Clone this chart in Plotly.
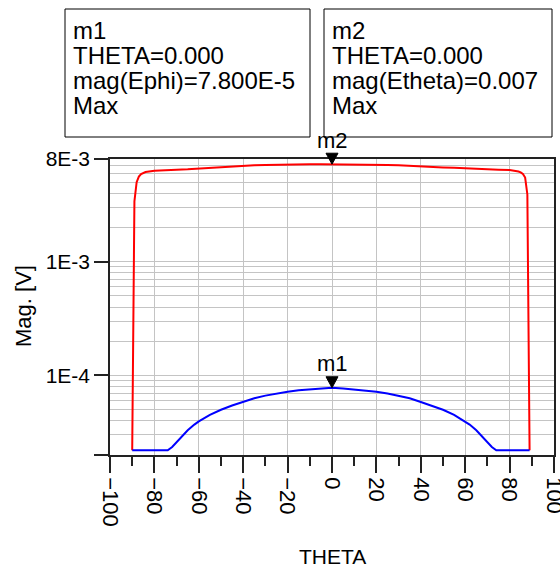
import numpy as np
import plotly.graph_objects as go

# ---- data -------------------------------------------------------------
theta_etheta = [-90, -89, -88, -87, -86, -85, -84, -80, -75, -70, -65, -60, -55, -50,
                -45, -40, -35, -30, -25, -20, -15, -10, -5, 0, 5, 10, 15, 20, 25, 30,
                35, 40, 45, 50, 55, 60, 65, 70, 75, 80, 84, 85, 86, 87, 88, 89]
mag_etheta = [2.2e-5, 3.4e-3, 5.0e-3, 5.6e-3, 5.9e-3, 6.05e-3, 6.15e-3, 6.3e-3, 6.4e-3,
              6.45e-3, 6.5e-3, 6.6e-3, 6.7e-3, 6.8e-3, 6.9e-3, 7.0e-3, 7.05e-3, 7.1e-3,
              7.15e-3, 7.2e-3, 7.2e-3, 7.2e-3, 7.2e-3, 7.2e-3, 7.2e-3, 7.2e-3, 7.2e-3,
              7.15e-3, 7.1e-3, 7.05e-3, 7.0e-3, 6.95e-3, 6.85e-3, 6.75e-3, 6.7e-3,
              6.6e-3, 6.55e-3, 6.5e-3, 6.45e-3, 6.4e-3, 6.2e-3, 6.1e-3, 5.9e-3, 5.5e-3,
              3.9e-3, 2.2e-5]

theta_ephi = [-90, -85, -80, -75, -74, -72, -70, -67, -65, -62, -60, -55, -50, -45, -40,
              -35, -30, -25, -20, -15, -10, -5, 0, 5, 10, 15, 20, 25, 30, 35, 40, 45,
              50, 55, 60, 62, 65, 67, 70, 72, 74, 75, 80, 85, 89]
mag_ephi = [2.2e-5, 2.2e-5, 2.2e-5, 2.2e-5, 2.2e-5, 2.35e-5, 2.6e-5, 3.0e-5, 3.3e-5,
            3.7e-5, 3.95e-5, 4.5e-5, 5.0e-5, 5.45e-5, 5.85e-5, 6.3e-5, 6.65e-5, 6.95e-5,
            7.2e-5, 7.4e-5, 7.55e-5, 7.7e-5, 7.8e-5, 7.7e-5, 7.55e-5, 7.4e-5, 7.2e-5,
            6.95e-5, 6.65e-5, 6.3e-5, 5.85e-5, 5.45e-5, 5.0e-5, 4.5e-5, 3.95e-5,
            3.7e-5, 3.3e-5, 3.0e-5, 2.6e-5, 2.35e-5, 2.2e-5, 2.2e-5, 2.2e-5, 2.2e-5,
            2.2e-5]

x_min, x_max = -100, 100
x_tickvals = list(range(-100, 101, 20))
y_min, y_max = 2e-5, 8e-3
y_tickvals = [y_min, 1e-4, 1e-3, 8e-3]
y_ticktext = ["", "1E-4", "1E-3", "8E-3"]
y_gridvals = [k * 1e-5 for k in range(3, 10)] + [k * 1e-4 for k in range(2, 10)] + \
             [k * 1e-3 for k in range(2, 8)]

marker_theta = 0  # both markers sit at THETA = 0 (Max)

# ---- helpers ----------------------------------------------------------
W, H = 560, 570
L, R, T, B = 110, 6, 159, 115
PW, PH = W - L - R, H - T - B
LOG_MIN, LOG_MAX = np.log10(y_min), np.log10(y_max)


def xp(px):
    """figure pixel column -> paper x"""
    return (px - L) / PW


def yp(py):
    """figure pixel row -> paper y"""
    return (H - B - py) / PH


def data_to_paper(theta, val):
    return ((theta - x_min) / (x_max - x_min),
            (np.log10(val) - LOG_MIN) / (LOG_MAX - LOG_MIN))


def sci(v):
    e = int(np.floor(np.log10(v)))
    return f"{v / 10**e:.3f}E{e}"


FONT = "Liberation Sans, Arial, sans-serif"

m1_val = mag_ephi[theta_ephi.index(marker_theta)]
m2_val = mag_etheta[theta_etheta.index(marker_theta)]

fig = go.Figure()
fig.add_trace(go.Scatter(x=theta_etheta, y=mag_etheta, mode="lines",
                         line=dict(color="#ff0000", width=2), name="mag(Etheta)"))
fig.add_trace(go.Scatter(x=theta_ephi, y=mag_ephi, mode="lines",
                         line=dict(color="#0000ff", width=2), name="mag(Ephi)"))

annotations = []
shapes = []

# marker triangles (tip on the curve, 12 px wide, 11 px tall) and their names;
# drawn in paper space so the m2 triangle is not clipped at the top frame
hw, ht = 6 / PW, 11 / PH
for name, val in (("m1", m1_val), ("m2", m2_val)):
    px0, py0 = data_to_paper(marker_theta, val)
    shapes.append(dict(
        type="path", xref="paper", yref="paper",
        path=f"M {px0 - hw} {py0 + ht} L {px0 + hw} {py0 + ht} L {px0} {py0} Z",
        fillcolor="black", line=dict(color="black", width=1)))
    annotations.append(dict(x=marker_theta, y=np.log10(val), xref="x", yref="y",
                            text=name, showarrow=False, yanchor="middle", yshift=24,
                            font=dict(family=FONT, size=22, color="black")))

# marker readout boxes
boxes = [
    (65, 310, ["m1", f"THETA={marker_theta:.3f}", f"mag(Ephi)={sci(m1_val)}", "Max"]),
    (324, 552, ["m2", f"THETA={marker_theta:.3f}", f"mag(Etheta)={m2_val:.3f}", "Max"]),
]
for x0, x1, lines in boxes:
    shapes.append(dict(type="rect", xref="paper", yref="paper", x0=xp(x0), x1=xp(x1),
                       y0=yp(137), y1=yp(9), line=dict(color="black", width=1),
                       fillcolor="rgba(0,0,0,0)"))
    for i, txt in enumerate(lines):
        annotations.append(dict(x=xp(x0 + 6), y=yp(30 + 25 * i), xref="paper",
                                yref="paper", text=txt, showarrow=False,
                                xanchor="left", yanchor="middle",
                                font=dict(family=FONT, size=24, color="black")))

# axis titles
annotations.append(dict(x=xp(332), y=yp(556), xref="paper", yref="paper", text="THETA",
                        showarrow=False, xanchor="center", yanchor="middle",
                        font=dict(family=FONT, size=21, color="black")))
annotations.append(dict(x=xp(23), y=yp(306), xref="paper", yref="paper", text="Mag. [V]",
                        showarrow=False, xanchor="center", yanchor="middle", textangle=-90,
                        font=dict(family=FONT, size=22, color="black")))

fig.update_layout(
    width=W, height=H,
    margin=dict(l=L, r=R, t=T, b=B, pad=0),
    paper_bgcolor="white", plot_bgcolor="white",
    showlegend=False,
    shapes=shapes,
    annotations=annotations,
    font=dict(family=FONT, color="black"),
)

fig.update_xaxes(
    range=[x_min, x_max], tickmode="array", tickvals=x_tickvals, tickangle=90,
    ticks="outside", ticklen=16, tickwidth=1.5, tickcolor="#222",
    tickfont=dict(family=FONT, size=22, color="black"), ticklabeloverflow="allow",
    showgrid=True, gridcolor="#c4c4c4", gridwidth=1.3, zeroline=False,
    showline=True, mirror=True, linecolor="#222", linewidth=1.5,
    minor=dict(dtick=10, tick0=0, ticks="outside", ticklen=9, tickwidth=1.5,
               tickcolor="#222", showgrid=False),
    automargin=False,
)

fig.update_yaxes(
    type="log", range=[LOG_MIN, LOG_MAX],
    tickmode="array", tickvals=y_tickvals, ticktext=y_ticktext,
    ticks="outside", ticklen=14, tickwidth=1.5, tickcolor="#222",
    tickfont=dict(family=FONT, size=21, color="black"),
    showgrid=True, gridcolor="#c4c4c4", gridwidth=1.3, zeroline=False,
    showline=True, mirror=True, linecolor="#222", linewidth=1.5,
    minor=dict(tickmode="array", tickvals=y_gridvals, ticks="", showgrid=True,
               gridcolor="#c4c4c4", gridwidth=1.3),
    automargin=False,
)

fig.write_html("out.html")
